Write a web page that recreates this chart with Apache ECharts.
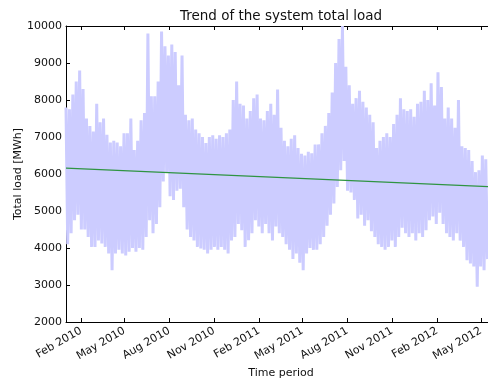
<!DOCTYPE html>
<html>
<head>
<meta charset="utf-8">
<script src="https://cdn.jsdelivr.net/npm/echarts@6/dist/echarts.min.js"></script>
<style>
  html, body { margin: 0; padding: 0; background: #fff; }
  #chart { width: 488px; height: 381px; }
</style>
</head>
<body>
<div id="chart"></div>
<script>
// Weekly extremes of the system total load (MWh), one pair per week from 1 Jan 2010
const firstWeek = '2010-01-01';
const weeklyPeak = [
  7800, 7750, 8150, 8500, 8800, 8300, 7500, 7300, 7150, 7900,
  7400, 7500, 7060, 6850, 6900, 6850, 6750, 7100, 7100, 7500,
  6650, 6900, 7450, 7650, 9800, 8100, 8100, 8500, 9850, 9450,
  9200, 9500, 9300, 8400, 9200, 7600, 7450, 7500, 7200, 7100,
  7000, 6840, 7000, 7050, 6950, 7050, 7000, 7100, 7200, 8000,
  8500, 7900, 7850, 7500, 7700, 8050, 8150, 7500, 7450, 7700,
  7900, 7600, 8280, 7250, 6900, 6750, 6950, 7050, 6700, 6550,
  6500, 6600, 6560, 6800, 6800, 7100, 7300, 7650, 8200, 9000,
  9650, 10000, 8900, 8400, 7900, 8050, 8250, 7950, 7800, 7600,
  7400, 6700, 6900, 7000, 7100, 7000, 7350, 7600, 8050, 7750,
  7700, 7750, 7550, 7900, 7950, 8250, 8000, 8450, 7850, 8750,
  8350, 7500, 7800, 7500, 7250, 8000, 6750, 6700, 6650, 6350,
  6050, 6100, 6500, 6400
];
const weeklyTrough = [
  4100, 4400, 4750, 4900, 4500, 4500, 4300, 4030, 4030, 4200,
  4120, 4030, 3850, 3400, 3850, 3950, 3850, 3800, 3900, 4000,
  3900, 4000, 3950, 4300, 4750, 4400, 4650, 5100, 5800, 6050,
  5400, 5300, 5550, 5600, 5100, 4500, 4300, 4200, 4030, 3990,
  3950, 3850, 3950, 4030, 3950, 4030, 3950, 3850, 4200, 4300,
  4650, 4480, 4030, 4210, 4400, 4750, 4580, 4400, 4650, 4400,
  4200, 4580, 4400, 4300, 4100, 3950, 3700, 3850, 3600, 3400,
  3850, 4000, 3950, 3950, 4100, 4300, 4600, 4900, 5200, 5650,
  6100, 6350, 5550, 5500, 5300, 4800, 4900, 4600, 4750, 4450,
  4300, 4100, 4030, 3950, 4030, 4200, 4030, 4300, 4550, 4400,
  4300, 4400, 4200, 4400, 4300, 4480, 4750, 4850, 4650, 4950,
  4650, 4400, 4300, 4200, 4400, 4200, 4030, 3670, 3580, 3500,
  2950, 3500, 3400, 3700
];

// Linear trend of the load over the whole period
const trendDates = ['2010-01-01', '2012-06-01'];
const trendValues = [6160, 5650];

// Quarterly date ticks
const tickDates = [
  '2010-02-01', '2010-05-01', '2010-08-01', '2010-11-01',
  '2011-02-01', '2011-05-01', '2011-08-01', '2011-11-01',
  '2012-02-01', '2012-05-01'
];
const tickLabels = [
  'Feb 2010', 'May 2010', 'Aug 2010', 'Nov 2010',
  'Feb 2011', 'May 2011', 'Aug 2011', 'Nov 2011',
  'Feb 2012', 'May 2012'
];
const yTicks = { min: 2000, max: 10000, step: 1000 };
const axisRange = ['2010-01-01', '2012-06-01'];

const DAY = 86400000;
const t0 = Date.parse(firstWeek);
const tickTimes = tickDates.map(d => Date.parse(d));
const labelByTime = new Map(tickTimes.map((t, i) => [t, tickLabels[i]]));

// Each week contributes its peak then its trough, tracing the load envelope
const loadData = [];
weeklyPeak.forEach((p, i) => {
  loadData.push([t0 + i * 7 * DAY, p]);
  loadData.push([t0 + (i * 7 + 3.5) * DAY, weeklyTrough[i]]);
});
const trendData = trendDates.map((d, i) => [Date.parse(d), trendValues[i]]);

const FONT = 'DejaVu Sans';
const axisLine = { show: true, lineStyle: { color: '#000', width: 1 } };

// Dates are plotted as millisecond timestamps on a value axis so the
// quarterly ticks can be placed exactly
const dateAxis = (position, withLabels) => ({
  type: 'value',
  position: position,
  min: Date.parse(axisRange[0]),
  max: Date.parse(axisRange[1]),
  scale: true,
  axisLine: axisLine,
  axisTick: { show: true, inside: true, length: 4, customValues: tickTimes, lineStyle: { color: '#000' } },
  axisLabel: withLabels ? {
    show: true,
    customValues: tickTimes,
    rotate: 30,
    margin: 8,
    fontFamily: FONT,
    fontSize: 11,
    color: '#111',
    formatter: v => labelByTime.get(v) || ''
  } : { show: false },
  splitLine: { show: false }
});

const bottomAxis = Object.assign(dateAxis('bottom', true), {
  name: 'Time period',
  nameLocation: 'middle',
  nameGap: 46,
  nameMoveOverlap: false,
  nameTextStyle: { fontFamily: FONT, fontSize: 11, color: '#111' }
});

const chart = echarts.init(document.getElementById('chart'), null, { renderer: 'canvas' });
chart.setOption({
  animation: false,
  backgroundColor: '#fff',
  grid: { left: 66, right: -8, top: 26, bottom: 59, containLabel: false, outerBoundsMode: 'none' },
  xAxis: [bottomAxis, dateAxis('top', false)],
  yAxis: {
    type: 'value',
    min: yTicks.min,
    max: yTicks.max,
    interval: yTicks.step,
    axisLine: axisLine,
    axisTick: { show: true, inside: true, length: 4, lineStyle: { color: '#000' } },
    axisLabel: { fontFamily: FONT, fontSize: 11, color: '#111', margin: 4, formatter: v => String(v) },
    splitLine: { show: false },
    name: 'Total load [MWh]',
    nameLocation: 'middle',
    nameRotate: 90,
    nameGap: 42,
    nameMoveOverlap: false,
    nameTextStyle: { fontFamily: FONT, fontSize: 11, color: '#111' }
  },
  graphic: [{
    type: 'text',
    x: 281,
    y: 16,
    style: {
      text: 'Trend of the system total load',
      font: '13.5px "DejaVu Sans"',
      fill: '#111',
      textAlign: 'center',
      textVerticalAlign: 'middle'
    }
  }],
  series: [
    {
      name: 'Total load',
      type: 'line',
      xAxisIndex: 0,
      data: loadData,
      showSymbol: false,
      symbol: 'none',
      lineStyle: { color: '#ccccff', width: 3, join: 'bevel' },
      z: 2
    },
    {
      name: 'Trend',
      type: 'line',
      xAxisIndex: 0,
      data: trendData,
      showSymbol: false,
      symbol: 'none',
      lineStyle: { color: '#2f9442', width: 1.4 },
      z: 3
    }
  ]
});
</script>
</body>
</html>
